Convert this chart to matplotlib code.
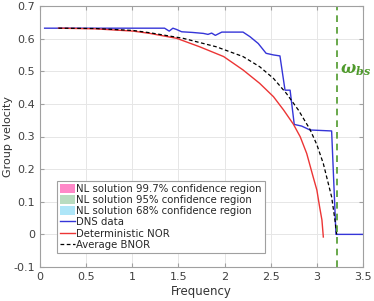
import matplotlib
matplotlib.use("Agg")
import matplotlib.pyplot as plt
from matplotlib.patches import Patch
from matplotlib.lines import Line2D

# DNS data
dns_x = [0.05, 1.35, 1.40, 1.44, 1.48, 1.535, 1.65, 1.77, 1.82, 1.86, 1.90, 1.97, 2.20,
         2.275, 2.365, 2.45, 2.53, 2.60, 2.655, 2.71, 2.755, 2.835, 2.925, 3.16, 3.207, 3.5]
dns_y = [0.632, 0.632, 0.623, 0.632, 0.628, 0.621, 0.619, 0.616, 0.613, 0.617, 0.610, 0.620, 0.620,
         0.606, 0.585, 0.555, 0.550, 0.547, 0.442, 0.442, 0.337, 0.332, 0.320, 0.317, 0.0, 0.0]

# Deterministic NOR
nor_x = [0.2, 0.6, 1.01, 1.19, 1.48, 1.73, 1.99, 2.2, 2.38, 2.53, 2.64, 2.745, 2.82, 2.89, 2.96,
         3.00, 3.03, 3.055, 3.07]
nor_y = [0.632, 0.630, 0.623, 0.616, 0.601, 0.575, 0.545, 0.504, 0.463, 0.422, 0.381, 0.338, 0.299,
         0.248, 0.176, 0.136, 0.084, 0.044, -0.008]

# Average BNOR
bnor_x = [0.2, 0.6, 1.01, 1.19, 1.55, 1.91, 2.2, 2.38, 2.53, 2.67, 2.80, 2.925, 3.0, 3.07, 3.16,
          3.196, 3.215]
bnor_y = [0.632, 0.631, 0.625, 0.618, 0.601, 0.575, 0.545, 0.514, 0.478, 0.432, 0.381, 0.322, 0.275,
          0.217, 0.115, 0.044, 0.0]

omega_bs = 3.22

xticks = [0, 0.5, 1, 1.5, 2, 2.5, 3, 3.5]
xticklabels = ["0", "0.5", "1", "1.5", "2", "2.5", "3", "3.5"]
yticks = [-0.1, 0, 0.1, 0.2, 0.3, 0.4, 0.5, 0.6, 0.7]
yticklabels = ["-0.1", "0", "0.1", "0.2", "0.3", "0.4", "0.5", "0.6", "0.7"]

legend_labels = ["NL solution 99.7% confidence region", "NL solution 95% confidence region",
                 "NL solution 68% confidence region", "DNS data", "Deterministic NOR", "Average BNOR"]

fig = plt.figure(figsize=(3.74, 3.01), dpi=100)
ax = fig.add_axes([40/374, 34/301, 323/374, 261/301])

blue = "#3535d8"
red = "#ec3535"
green = "#4f9a2c"

ax.plot(dns_x, dns_y, color=blue, lw=1.0)
ax.plot(nor_x, nor_y, color=red, lw=1.0)
ax.plot(bnor_x, bnor_y, color="black", lw=0.9, ls=(0, (3, 2)))
ax.axvline(omega_bs, color=green, lw=1.2, ls=(0, (4, 3)))
ax.text(3.255, 0.504, r"$\boldsymbol{\omega}_{\boldsymbol{bs}}$", color=green,
        fontsize=11.5, va="center", ha="left", clip_on=False, math_fontfamily="dejavuserif")

ax.set_xlim(0, 3.5)
ax.set_ylim(-0.1, 0.7)
ax.set_xticks(xticks)
ax.set_xticklabels(xticklabels)
ax.set_yticks(yticks)
ax.set_yticklabels(yticklabels)
ax.grid(True, color="#e6e6e6", lw=0.7)
ax.set_axisbelow(True)
for s in ax.spines.values():
    s.set_color("#a0a0a0")
    s.set_linewidth(0.8)
ax.tick_params(colors="#a0a0a0", labelcolor="#404040", labelsize=8, length=3, direction="in",
               top=True, right=True)
ax.set_xlabel("Frequency", fontsize=8.5, color="#333333", labelpad=2)
ax.set_ylabel("Group velocity", fontsize=8, color="#333333")
ax.yaxis.set_label_coords(-0.083, 0.5)

handles = [Patch(facecolor="#ff88c8", edgecolor="none"),
           Patch(facecolor="#b8dcc0", edgecolor="none"),
           Patch(facecolor="#aee6f8", edgecolor="none"),
           Line2D([], [], color=blue, lw=1.0),
           Line2D([], [], color=red, lw=1.0),
           Line2D([], [], color="black", lw=0.9, ls=(0, (3, 2)))]
leg = ax.legend(handles, legend_labels, loc="lower left", bbox_to_anchor=(0.053, 0.054),
                borderaxespad=0, fontsize=7.3, handlelength=1.5, handletextpad=0.1,
                handleheight=1.0, labelspacing=0.12, borderpad=0.3, fancybox=False, framealpha=1)
leg.get_frame().set_edgecolor("#a0a0a0")
leg.get_frame().set_linewidth(0.8)
for t in leg.get_texts():
    t.set_color("#262626")

fig.savefig("out.png", dpi=100)
